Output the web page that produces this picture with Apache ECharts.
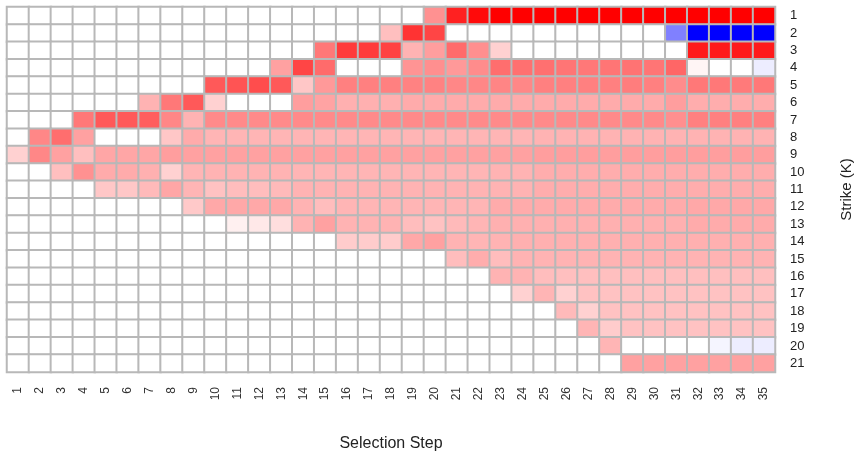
<!DOCTYPE html>
<html>
<head>
<meta charset="utf-8">
<script src="https://cdn.jsdelivr.net/npm/echarts@6/dist/echarts.min.js"></script>
<style>
  html, body { margin: 0; padding: 0; background: #fff; }
  #chart { width: 859px; height: 454px; }
</style>
</head>
<body>
<div id="chart"></div>
<script>
// Selection steps (columns) and strikes (rows)
const steps = Array.from({ length: 35 }, (_, i) => String(i + 1));
const strikes = Array.from({ length: 21 }, (_, i) => String(i + 1));

// Signed weight of each strike at each selection step (negative = blue, positive = red)
const k01 = [0,0,0,0,0,0,0,0,0,0,0,0,0,0,0,0,0,0,0,0.43,0.87,0.96,1,1,1,1,1,1,1,1,1,1,1,1,1];
const k02 = [0,0,0,0,0,0,0,0,0,0,0,0,0,0,0,0,0,0.25,0.8,0.73,0,0,0,0,0,0,0,0,0,0,-0.5,-1,-1,-1,-1];
const k03 = [0,0,0,0,0,0,0,0,0,0,0,0,0,0,0.53,0.77,0.77,0.74,0.3,0.38,0.58,0.44,0.18,0,0,0,0,0,0,0,0,0.9,0.9,0.9,0.9];
const k04 = [0,0,0,0,0,0,0,0,0,0,0,0,0.37,0.73,0.58,0,0,0,0.42,0.44,0.4,0.45,0.57,0.56,0.56,0.54,0.53,0.54,0.55,0.54,0.6,0.04,0,0,-0.07];
const k05 = [0,0,0,0,0,0,0,0,0,0.65,0.67,0.7,0.65,0.22,0.4,0.5,0.5,0.5,0.49,0.49,0.47,0.47,0.48,0.47,0.5,0.5,0.5,0.5,0.51,0.5,0.45,0.53,0.53,0.52,0.53];
const k06 = [0,0,0,0,0,0,0.3,0.53,0.65,0.18,0,0,0,0.38,0.36,0.31,0.31,0.31,0.33,0.33,0.33,0.33,0.33,0.33,0.33,0.33,0.33,0.33,0.33,0.33,0.38,0.32,0.32,0.32,0.32];
const k07 = [0,0,0,0.53,0.65,0.65,0.63,0.47,0.3,0.46,0.46,0.46,0.46,0.46,0.46,0.46,0.46,0.46,0.46,0.46,0.46,0.46,0.46,0.46,0.46,0.46,0.46,0.46,0.46,0.46,0.44,0.5,0.5,0.5,0.5];
const k08 = [0,0.47,0.57,0.37,0,0,0,0.22,0.33,0.29,0.29,0.29,0.29,0.29,0.29,0.29,0.29,0.29,0.29,0.29,0.29,0.29,0.29,0.29,0.3,0.3,0.3,0.3,0.3,0.3,0.3,0.3,0.3,0.3,0.3];
const k09 = [0.18,0.47,0.37,0.25,0.35,0.35,0.35,0.38,0.37,0.37,0.37,0.37,0.37,0.37,0.37,0.37,0.37,0.37,0.37,0.37,0.37,0.37,0.37,0.37,0.38,0.38,0.38,0.38,0.38,0.38,0.38,0.38,0.38,0.38,0.38];
const k10 = [0,0,0.25,0.43,0.33,0.33,0.31,0.18,0.29,0.3,0.3,0.3,0.3,0.29,0.29,0.29,0.29,0.29,0.29,0.29,0.29,0.29,0.3,0.3,0.32,0.32,0.32,0.32,0.32,0.32,0.32,0.32,0.32,0.32,0.32];
const k11 = [0,0,0,0,0.22,0.22,0.27,0.35,0.29,0.24,0.26,0.26,0.27,0.3,0.3,0.3,0.3,0.3,0.3,0.3,0.3,0.3,0.3,0.3,0.32,0.32,0.32,0.32,0.32,0.32,0.32,0.32,0.32,0.32,0.32];
const k12 = [0,0,0,0,0,0,0,0,0.21,0.34,0.34,0.34,0.34,0.3,0.26,0.29,0.29,0.29,0.29,0.29,0.29,0.29,0.33,0.33,0.33,0.33,0.33,0.33,0.33,0.33,0.33,0.34,0.34,0.34,0.34];
const k13 = [0,0,0,0,0,0,0,0,0,0,0.06,0.09,0.13,0.3,0.37,0.3,0.3,0.3,0.26,0.24,0.27,0.29,0.31,0.31,0.31,0.31,0.31,0.31,0.31,0.31,0.31,0.33,0.33,0.33,0.33];
const k14 = [0,0,0,0,0,0,0,0,0,0,0,0,0,0,0,0.2,0.2,0.2,0.34,0.37,0.3,0.29,0.3,0.31,0.31,0.31,0.31,0.31,0.31,0.31,0.31,0.31,0.31,0.31,0.31];
const k15 = [0,0,0,0,0,0,0,0,0,0,0,0,0,0,0,0,0,0,0,0,0.26,0.32,0.26,0.3,0.3,0.3,0.3,0.3,0.3,0.3,0.3,0.3,0.3,0.3,0.3];
const k16 = [0,0,0,0,0,0,0,0,0,0,0,0,0,0,0,0,0,0,0,0,0,0,0.3,0.3,0.26,0.25,0.25,0.25,0.25,0.25,0.25,0.25,0.25,0.25,0.25];
const k17 = [0,0,0,0,0,0,0,0,0,0,0,0,0,0,0,0,0,0,0,0,0,0,0,0.18,0.29,0.18,0.24,0.24,0.24,0.24,0.24,0.24,0.24,0.24,0.24];
const k18 = [0,0,0,0,0,0,0,0,0,0,0,0,0,0,0,0,0,0,0,0,0,0,0,0,0,0.27,0.18,0.24,0.24,0.24,0.24,0.24,0.24,0.24,0.24];
const k19 = [0,0,0,0,0,0,0,0,0,0,0,0,0,0,0,0,0,0,0,0,0,0,0,0,0,0,0.29,0.2,0.24,0.24,0.24,0.24,0.24,0.24,0.24];
const k20 = [0,0,0,0,0,0,0,0,0,0,0,0,0,0,0,0,0,0,0,0,0,0,0,0,0,0,0,0.29,0,0,0,0,-0.04,-0.07,-0.07];
const k21 = [0,0,0,0,0,0,0,0,0,0,0,0,0,0,0,0,0,0,0,0,0,0,0,0,0,0,0,0,0.37,0.37,0.37,0.37,0.37,0.37,0.37];

const strikeRows = [k01,k02,k03,k04,k05,k06,k07,k08,k09,k10,k11,k12,k13,k14,k15,k16,k17,k18,k19,k20,k21];

const cells = [];
strikeRows.forEach((row, y) => row.forEach((v, x) => cells.push([x, y, v])));

const chart = echarts.init(document.getElementById('chart'), null, { renderer: 'canvas' });
const font = "'Liberation Sans', Arial, sans-serif";

chart.setOption({
  animation: false,
  backgroundColor: '#ffffff',
  grid: { left: 7, top: 7, width: 768, height: 365, containLabel: false, outerBoundsMode: 'none' },
  xAxis: {
    type: 'category',
    data: steps,
    name: 'Selection Step',
    nameLocation: 'middle',
    nameGap: 64,
    nameTextStyle: { fontFamily: font, fontSize: 16, color: '#222' },
    axisLine: { show: false },
    axisTick: { show: false },
    splitLine: { show: false },
    axisLabel: {
      rotate: 90, interval: 0, margin: 15,
      fontFamily: font, fontSize: 12, color: '#333'
    }
  },
  yAxis: {
    type: 'category',
    data: strikes,
    inverse: true,
    position: 'right',
    name: 'Strike (K)',
    nameLocation: 'middle',
    nameRotate: 90,
    nameGap: 64,
    nameTextStyle: { fontFamily: font, fontSize: 15, color: '#222' },
    axisLine: { show: false },
    axisTick: { show: false },
    splitLine: { show: false },
    axisLabel: {
      interval: 0, margin: 15, align: 'left',
      fontFamily: font, fontSize: 13, color: '#222'
    }
  },
  visualMap: {
    show: false,
    type: 'continuous',
    dimension: 2,
    min: -1,
    max: 1,
    inRange: { color: ['#0000ff', '#ffffff', '#ff0000'] }
  },
  series: [{
    type: 'heatmap',
    data: cells,
    itemStyle: { borderColor: '#b8b8b8', borderWidth: 2 },
    emphasis: { disabled: true }
  }]
});
</script>
</body>
</html>
